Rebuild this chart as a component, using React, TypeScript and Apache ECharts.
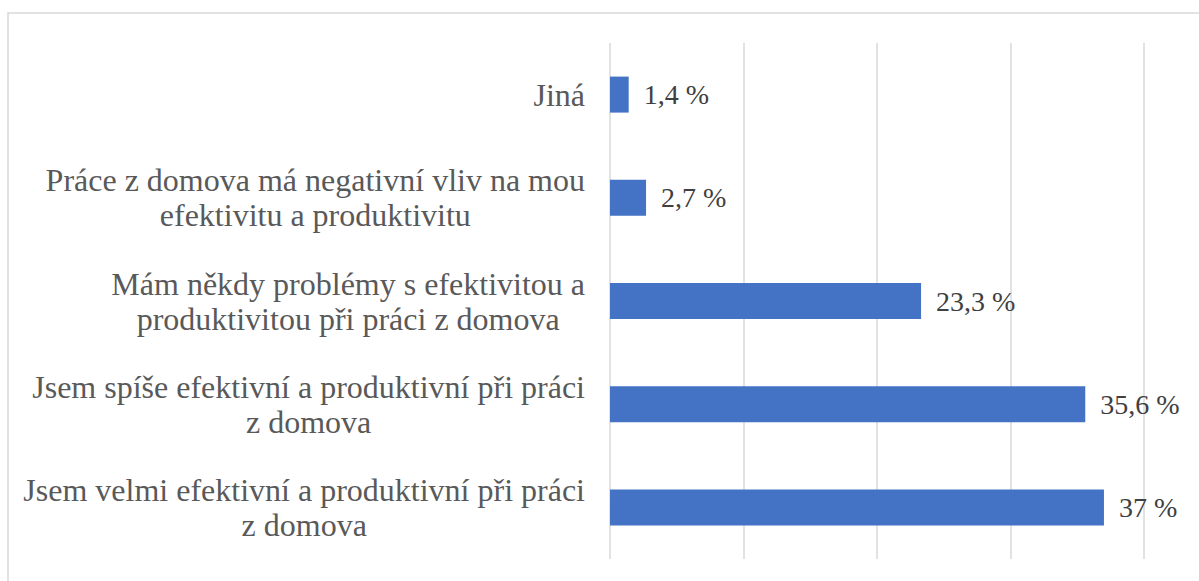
import React, { useEffect, useRef } from "react";
import * as echarts from "echarts";

const categories: string[] = [
  "Jiná",
  "Práce z domova má negativní vliv na mou\nefektivitu a produktivitu",
  "Mám někdy problémy s efektivitou a\nproduktivitou při práci z domova",
  "Jsem spíše efektivní a produktivní při práci\nz domova",
  "Jsem velmi efektivní a produktivní při práci\nz domova",
];
const values: number[] = [1.4, 2.7, 23.3, 35.6, 37];
const axisMin = 0;
const axisMax = 40;
const axisInterval = 10;

export default function App() {
  const ref = useRef<HTMLDivElement>(null);
  useEffect(() => {
    if (!ref.current) return;
    const chart = echarts.init(ref.current, null, { renderer: "svg" });
    const font = "Liberation Serif";
    chart.setOption({
      animation: false,
      backgroundColor: "#ffffff",
      textStyle: { fontFamily: font },
      graphic: [
        {
          type: "rect",
          shape: { x: 8, y: 13, width: 1400, height: 900 },
          style: { fill: "none", stroke: "#d9d9d9", lineWidth: 1.5 },
          silent: true,
        },
      ],
      grid: { left: 610, right: 55, top: 43, bottom: 22, containLabel: false },
      xAxis: {
        type: "value",
        min: axisMin,
        max: axisMax,
        interval: axisInterval,
        axisLabel: { show: false },
        axisLine: { show: false },
        axisTick: { show: false },
        splitLine: { show: true, lineStyle: { color: "#d9d9d9", width: 1.5 } },
      },
      yAxis: {
        type: "category",
        inverse: true,
        data: categories,
        axisLine: { show: false },
        axisTick: { show: false },
        axisLabel: {
          align: "right",
          margin: 25,
          fontFamily: font,
          formatter: (v: string) =>
            v
              .split("\n")
              .map((l) => `{a|${l}}`)
              .join("\n"),
          rich: {
            a: {
              align: "center",
              fontFamily: font,
              fontSize: 32,
              lineHeight: 35,
              color: "#595959",
            },
          },
        },
      },
      series: [
        {
          type: "bar",
          data: values,
          barWidth: 36,
          itemStyle: { color: "#4472c4" },
          label: {
            show: true,
            position: "right",
            distance: 15,
            fontFamily: font,
            fontSize: 28,
            color: "#404040",
            formatter: (p: any) => `${String(p.value).replace(".", ",")} %`,
          },
        },
      ],
    });
    return () => chart.dispose();
  }, []);
  return (
    <div
      ref={ref}
      style={{ position: "absolute", left: 0, top: 0, width: 1199, height: 581 }}
    />
  );
}
